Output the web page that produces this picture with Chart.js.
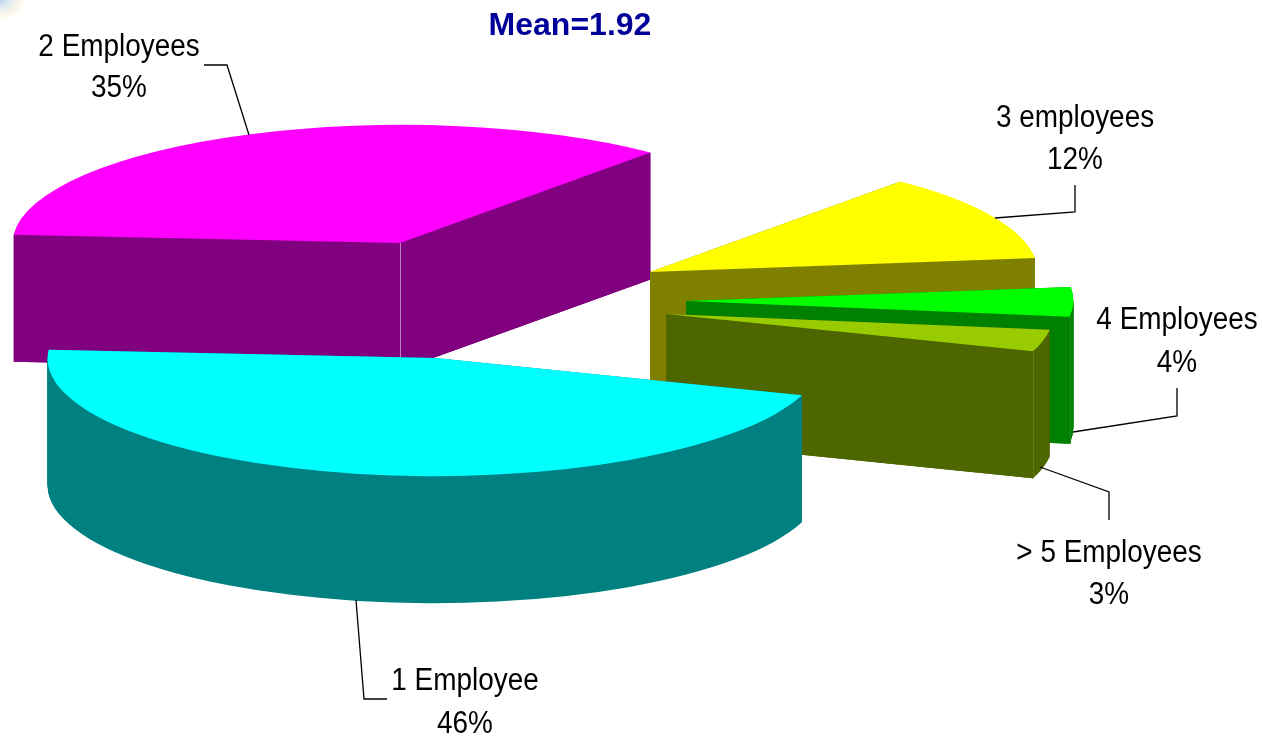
<!DOCTYPE html>
<html>
<head>
<meta charset="utf-8">
<script src="https://cdn.jsdelivr.net/npm/chart.js@4"></script>
<style>
html,body{margin:0;padding:0;width:1262px;height:736px;overflow:hidden;
background:radial-gradient(ellipse 26px 20px at 0 0,#bcd6ea 0%,#e6eef0 45%,#fbf6e8 75%,#ffffff 100%),#fff;}
canvas{display:block}
</style>
</head>
<body>
<canvas id="c" width="1262" height="736"></canvas>
<script>
const categories = ['1 Employee', '2 Employees', '3 employees', '4 Employees', '> 5 Employees'];
const shares = [46, 35, 12, 4, 3];
const meanText = 'Mean=1.92';
const topColors = ['#00FFFF', '#FF00FF', '#FFFF00', '#00FF00', '#99CC00'];
const wallColors = ['#008080', '#800080', '#808000', '#008000', '#4D6600'];
const ridgeColors = [null, '#C080C0', null, '#1A8A1A', '#5F7A10'];

// exploded-slice layout of the perspective view
const tipX = [435, 400, 650, 686, 666];
const tipY = [358, 243, 272, 301, 314];
const drawOrder = [1, 2, 3, 4, 0];
const RADIUS = 387, SQUASH = 0.305, SHEAR = 0.013, SKEW = 0.047, DEPTH = 127;

const labelX = [465, 119, 1075, 1177, 1109];
const nameY = [690, 56, 127, 329, 562];
const pctY = [733, 97, 169, 372, 604];
const leaders = [
  [[356,600],[364,699],[387,699]],
  [[204,65],[227,65],[249,135]],
  [[1075,185],[1075,212],[995,218]],
  [[1177,388],[1177,416],[1073,432]],
  [[1109,520],[1109,492],[1040,467]]
];

function place(ctx, arc, i, yShift) {
  const s = RADIUS / arc.outerRadius;
  ctx.translate(tipX[i], tipY[i] + yShift);
  ctx.transform(s, SHEAR * s, -SKEW * s, SQUASH * s, 0, 0);
  ctx.translate(-arc.x, -arc.y);
}

function paint(ctx, arc, i, yShift, color) {
  const saved = arc.options;
  arc.options = Object.create(saved, {backgroundColor: {value: color}, borderWidth: {value: 0}});
  ctx.save();
  place(ctx, arc, i, yShift);
  arc.draw(ctx);
  ctx.restore();
  arc.options = saved;
}

// screen position of a point on a slice's rim (or its tip when r is 0)
function rimPoint(arc, i, angle, r) {
  const s = RADIUS / arc.outerRadius;
  const x = r * Math.cos(angle), y = r * Math.sin(angle);
  return [tipX[i] + s * x - SKEW * s * y, tipY[i] + SHEAR * s * x + SQUASH * s * y];
}

function radialWall(ctx, arc, i, angle, color) {
  const a = rimPoint(arc, i, angle, 0), b = rimPoint(arc, i, angle, arc.outerRadius);
  ctx.fillStyle = color;
  ctx.beginPath();
  ctx.moveTo(a[0], a[1]);
  ctx.lineTo(b[0], b[1]);
  ctx.lineTo(b[0], b[1] + DEPTH);
  ctx.lineTo(a[0], a[1] + DEPTH);
  ctx.closePath();
  ctx.fill();
}

function ridge(ctx, p, color) {
  ctx.strokeStyle = color;
  ctx.lineWidth = 1;
  ctx.beginPath();
  ctx.moveTo(Math.round(p[0]) + 0.5, p[1]);
  ctx.lineTo(Math.round(p[0]) + 0.5, p[1] + DEPTH);
  ctx.stroke();
}

const pie3d = {
  id: 'pie3d',
  beforeDatasetDraw(chart, args) {
    const ctx = chart.ctx;
    const arcs = chart.getDatasetMeta(args.index).data;
    drawOrder.forEach(i => {
      const arc = arcs[i];
      for (let d = DEPTH; d > 0; d--) paint(ctx, arc, i, d, wallColors[i]);
      radialWall(ctx, arc, i, arc.startAngle, wallColors[i]);
      radialWall(ctx, arc, i, arc.endAngle, wallColors[i]);
      if (ridgeColors[i]) {
        const p = i === 1 ? rimPoint(arc, i, arc.endAngle, 0) : rimPoint(arc, i, arc.endAngle, arc.outerRadius);
        ridge(ctx, p, ridgeColors[i]);
      }
      paint(ctx, arc, i, 0, topColors[i]);
    });
    return false;
  },
  afterDraw(chart) {
    const ctx = chart.ctx;
    ctx.save();
    ctx.strokeStyle = '#000';
    ctx.lineWidth = 1.3;
    leaders.forEach(l => {
      ctx.beginPath();
      l.forEach((p, k) => k ? ctx.lineTo(p[0], p[1]) : ctx.moveTo(p[0], p[1]));
      ctx.stroke();
    });
    ctx.fillStyle = '#000';
    ctx.textAlign = 'center';
    ctx.textBaseline = 'alphabetic';
    ctx.font = '31px "Liberation Sans", Arial, sans-serif';
    const text = (t, x, y) => {
      ctx.save();
      ctx.translate(x, y);
      ctx.scale(0.9, 1);
      ctx.fillText(t, 0, 0);
      ctx.restore();
    };
    categories.forEach((c, i) => {
      text(c, labelX[i], nameY[i]);
      text(shares[i] + '%', labelX[i], pctY[i]);
    });
    ctx.restore();
  }
};

new Chart(document.getElementById('c'), {
  type: 'pie',
  data: {
    labels: categories,
    datasets: [{data: shares, backgroundColor: topColors, borderWidth: 0}]
  },
  options: {
    responsive: false,
    animation: false,
    rotation: 106,
    layout: {padding: {right: 122}},
    plugins: {
      legend: {display: false},
      tooltip: {enabled: false},
      title: {
        display: true,
        text: meanText,
        color: '#000099',
        fullSize: false,
        font: {family: '"Liberation Sans", Arial, sans-serif', size: 32, weight: 'bold'},
        padding: {top: 7, bottom: 4}
      }
    }
  },
  plugins: [pie3d]
});
</script>
</body>
</html>
